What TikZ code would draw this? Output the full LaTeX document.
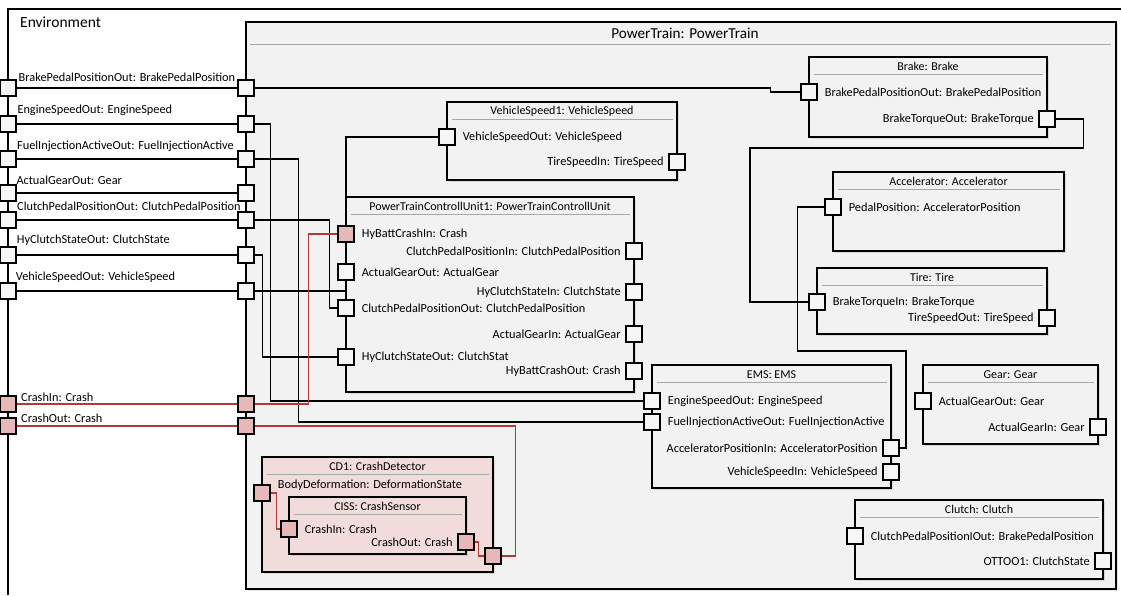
\documentclass[tikz,border=0pt]{standalone}
\usepackage{fontspec}
\setmainfont{Carlito}
\usetikzlibrary{calc,shadows}

\definecolor{ptfill}{HTML}{F2F2F2}
\definecolor{portfill}{HTML}{F6F6F6}
\definecolor{crashfill}{HTML}{F2DCDB}
\definecolor{cport}{HTML}{E6B9B8}
\definecolor{cwire}{HTML}{B23A36}
\definecolor{sepgray}{HTML}{A8A8A8}

\pgfdeclarelayer{back}
\pgfdeclarelayer{wires}
\pgfsetlayers{back,wires,main}

\tikzset{
  lbl/.style={font=\fontsize{12.3}{14}\selectfont, inner sep=0pt},
  ttl/.style={font=\fontsize{12}{14}\selectfont, inner sep=0pt},
  box/.style={draw=black, line width=1.4pt, fill=ptfill, inner sep=0pt, outer sep=0pt,
    drop shadow={opacity=0.22, shadow xshift=1.6pt, shadow yshift=-1.6pt}},
  crashbox/.style={box, fill=crashfill},
  port/.style={draw=black, line width=1.3pt, fill=portfill, minimum size=16pt, inner sep=0pt},
  crashport/.style={port, fill=cport},
  sep/.style={draw=sepgray, line width=1.2pt},
  wire/.style={draw=black, line width=1.3pt},
  crashwire/.style={draw=cwire, line width=1.1pt},
}

% component box: [style]{name}{x0}{y0}{x1}{y1}{title}
\newcommand\compbox[7][box]{%
  \node[#1, anchor=north west, minimum width={#5-#3}, minimum height={#6-#4}] (#2) at (#3,#4) {};
  \node[ttl] (#2-title) at ($(#2.north)+(0,9.3)$) {#7};
  \draw[sep] ({#3+4.5},{#4+17.3}) -- ({#5-4.5},{#4+17.3});
}
% port on the left edge of a box, label to its right
\newcommand\lport[5][port]{%
  \coordinate (#2-y) at (0,#4);
  \node[#1] (#2) at (#3.west |- #2-y) {};
  \node[lbl, anchor=west] (#2-l) at ([xshift=7pt]#2.east) {#5};
}
% port on the right edge of a box, label to its left
\newcommand\rport[5][port]{%
  \coordinate (#2-y) at (0,#4);
  \node[#1] (#2) at (#3.east |- #2-y) {};
  \node[lbl, anchor=east] (#2-l) at ([xshift=-4.5pt]#2.west) {#5};
}

\begin{document}
\begin{tikzpicture}[x=1pt, y=-1pt]
\useasboundingbox (0,0) rectangle (1121,595);

% ---------------- Environment frame and PowerTrain block
\begin{pgfonlayer}{back}
  \fill[white] (0,0) rectangle (1121,595);
  \draw[line width=1.4pt] (8,595) -- (8,9) -- (1121,9);
  \node[box, anchor=north west, minimum width=870, minimum height=567] (pt) at (246,22) {};
  \draw[sep] (250,44.5) -- (1111,44.5);
\end{pgfonlayer}
\node[font=\fontsize{15.5}{18}\selectfont, inner sep=0pt, anchor=west] (envtitle) at (20,22) {Environment};
\node[font=\fontsize{15.2}{18}\selectfont, inner sep=0pt] (pttitle) at (685,33) {PowerTrain: PowerTrain};

% ---------------- Environment ports (left) and PowerTrain boundary ports
\foreach \n/\y/\s in {Brake/88/port, Eng/124/port, Fuel/159/port, Gear/193/port,
                      Clutch/220/port, HyC/255/port, VS/291/port,
                      CrashIn/404/crashport, CrashOut/426/crashport}{
  \node[\s] (e\n) at (8,\y) {};
  \node[\s] (p\n) at (246,\y) {};
}
\node[lbl, anchor=base west] (eBrake-l)    at (18.5,81)  {BrakePedalPositionOut: BrakePedalPosition};
\node[lbl, anchor=base west] (eEng-l)      at (17.3,113.5) {EngineSpeedOut: EngineSpeed};
\node[lbl, anchor=base west] (eFuel-l)     at (17,149)   {FuelInjectionActiveOut: FuelInjectionActive};
\node[lbl, anchor=base west] (eGear-l)     at (16.3,184) {ActualGearOut: Gear};
\node[lbl, anchor=base west] (eClutch-l)   at (17,210.5) {ClutchPedalPositionOut: ClutchPedalPosition};
\node[lbl, anchor=base west] (eHyC-l)      at (16.7,243.5) {HyClutchStateOut: ClutchState};
\node[lbl, anchor=base west] (eVS-l)       at (15.7,280.5) {VehicleSpeedOut: VehicleSpeed};
\node[lbl, anchor=base west] (eCrashIn-l)  at (21,401)   {CrashIn: Crash};
\node[lbl, anchor=base west] (eCrashOut-l) at (21,422.5) {CrashOut: Crash};

% ---------------- Inner components
\compbox{vs}{447}{102}{677}{180}{VehicleSpeed1: VehicleSpeed}
\lport{vsOut}{vs}{137}{VehicleSpeedOut: VehicleSpeed}
\rport{vsTire}{vs}{162}{TireSpeedIn: TireSpeed}

\compbox{cu}{346}{197}{634}{392}{PowerTrainControllUnit1: PowerTrainControllUnit}
\lport[crashport]{cuHBC}{cu}{234}{HyBattCrashIn: Crash}
\lport{cuAGO}{cu}{272}{ActualGearOut: ActualGear}
\lport{cuCPO}{cu}{308}{ClutchPedalPositionOut: ClutchPedalPosition}
\lport{cuHCO}{cu}{357}{HyClutchStateOut: ClutchStat}
\rport{cuCPI}{cu}{251}{ClutchPedalPositionIn: ClutchPedalPosition}
\rport{cuHCI}{cu}{292}{HyClutchStateIn: ClutchState}
\rport{cuAGI}{cu}{334}{ActualGearIn: ActualGear}
\rport{cuHBO}{cu}{371}{HyBattCrashOut: Crash}

\compbox{brk}{809}{57}{1047}{137}{Brake: Brake}
\lport{brkPedal}{brk}{92}{BrakePedalPositionOut: BrakePedalPosition}
\rport{brkTorque}{brk}{119}{BrakeTorqueOut: BrakeTorque}

\compbox{acc}{833}{172}{1064}{251}{Accelerator: Accelerator}
\lport{accPedal}{acc}{207}{PedalPosition: AcceleratorPosition}

\compbox{tire}{817}{268}{1047}{334}{Tire: Tire}
\lport{tireBT}{tire}{302}{BrakeTorqueIn: BrakeTorque}
\rport{tireSO}{tire}{318}{TireSpeedOut: TireSpeed}

\compbox{ems}{652}{365}{891}{488}{EMS: EMS}
\lport{emsEng}{ems}{401}{EngineSpeedOut: EngineSpeed}
\lport{emsFuel}{ems}{422}{FuelInjectionActiveOut: FuelInjectionActive}
\rport{emsAcc}{ems}{448}{AcceleratorPositionIn: AcceleratorPosition}
\rport{emsVS}{ems}{472}{VehicleSpeedIn: VehicleSpeed}

\compbox{gear}{923}{365}{1098}{444}{Gear: Gear}
\lport{gearOut}{gear}{401}{ActualGearOut: Gear}
\rport{gearIn}{gear}{427}{ActualGearIn: Gear}

\compbox{clutch}{855}{500}{1103}{579}{Clutch: Clutch}
\lport{clPed}{clutch}{536}{ClutchPedalPositionIOut: BrakePedalPosition}
\rport{clOT}{clutch}{561}{OTTOO1: ClutchState}

% crash detector with its nested sensor
\compbox[crashbox]{cd}{262}{457}{493}{572}{CD1: CrashDetector}
\coordinate (cdBody-y) at (0,493);
\node[crashport] (cdBody) at (cd.west |- cdBody-y) {};
\node[lbl, anchor=west] (cdBody-l) at (277.7,485) {BodyDeformation: DeformationState};
\coordinate (cdOut-y) at (0,556);
\node[crashport] (cdOut) at (cd.east |- cdOut-y) {};

\compbox[crashbox]{ciss}{289}{497}{466}{554}{CISS: CrashSensor}
\lport[crashport]{cissIn}{ciss}{529}{CrashIn: Crash}
\rport[crashport]{cissOut}{ciss}{542}{CrashOut: Crash}

\draw[crashwire] (cdBody.east) -- ++(6,0) |- (cissIn.west);
\draw[crashwire] (cissOut.east) -- ++(4,0) |- (cdOut.west);

% ---------------- Connectors
\begin{pgfonlayer}{wires}
  \foreach \n in {Brake, Eng, Fuel, Gear, Clutch, HyC, VS}{
    \draw[wire] (e\n.east) -- (p\n.west);
  }
  \draw[crashwire] (eCrashIn.east) -- (pCrashIn.west);
  \draw[crashwire] (eCrashOut.east) -- (pCrashOut.west);

  \draw[wire] (pBrake.east) -- ++(516,0) |- (brkPedal.west);
  \draw[wire] (pEng.east) -- ++(16,0) |- (emsEng.west);
  \draw[wire] (pFuel.east) -- ++(44,0) |- (emsFuel.west);
  \draw[wire] (pClutch.east) -- ++(75,0) |- (cuCPO.west);
  \draw[wire] (pHyC.east) -- ++(8,0) |- (cuHCO.west);
  \draw[wire] (pVS.east) -| (cu.north west) |- (vsOut.west);
  \draw[crashwire] (pCrashIn.east) -- ++(54,0) |- (cuHBC.west);
  \draw[crashwire] (pCrashOut.east) -- ++(261,0) |- (cdOut.east);

  \draw[wire] (brkTorque.east) -- ++(28,0) |- (750,148) |- (tireBT.west);
  \draw[wire] (accPedal.west) -- ++(-27,0) |- (906,351) |- (emsAcc.east);
\end{pgfonlayer}
\end{tikzpicture}
\end{document}
